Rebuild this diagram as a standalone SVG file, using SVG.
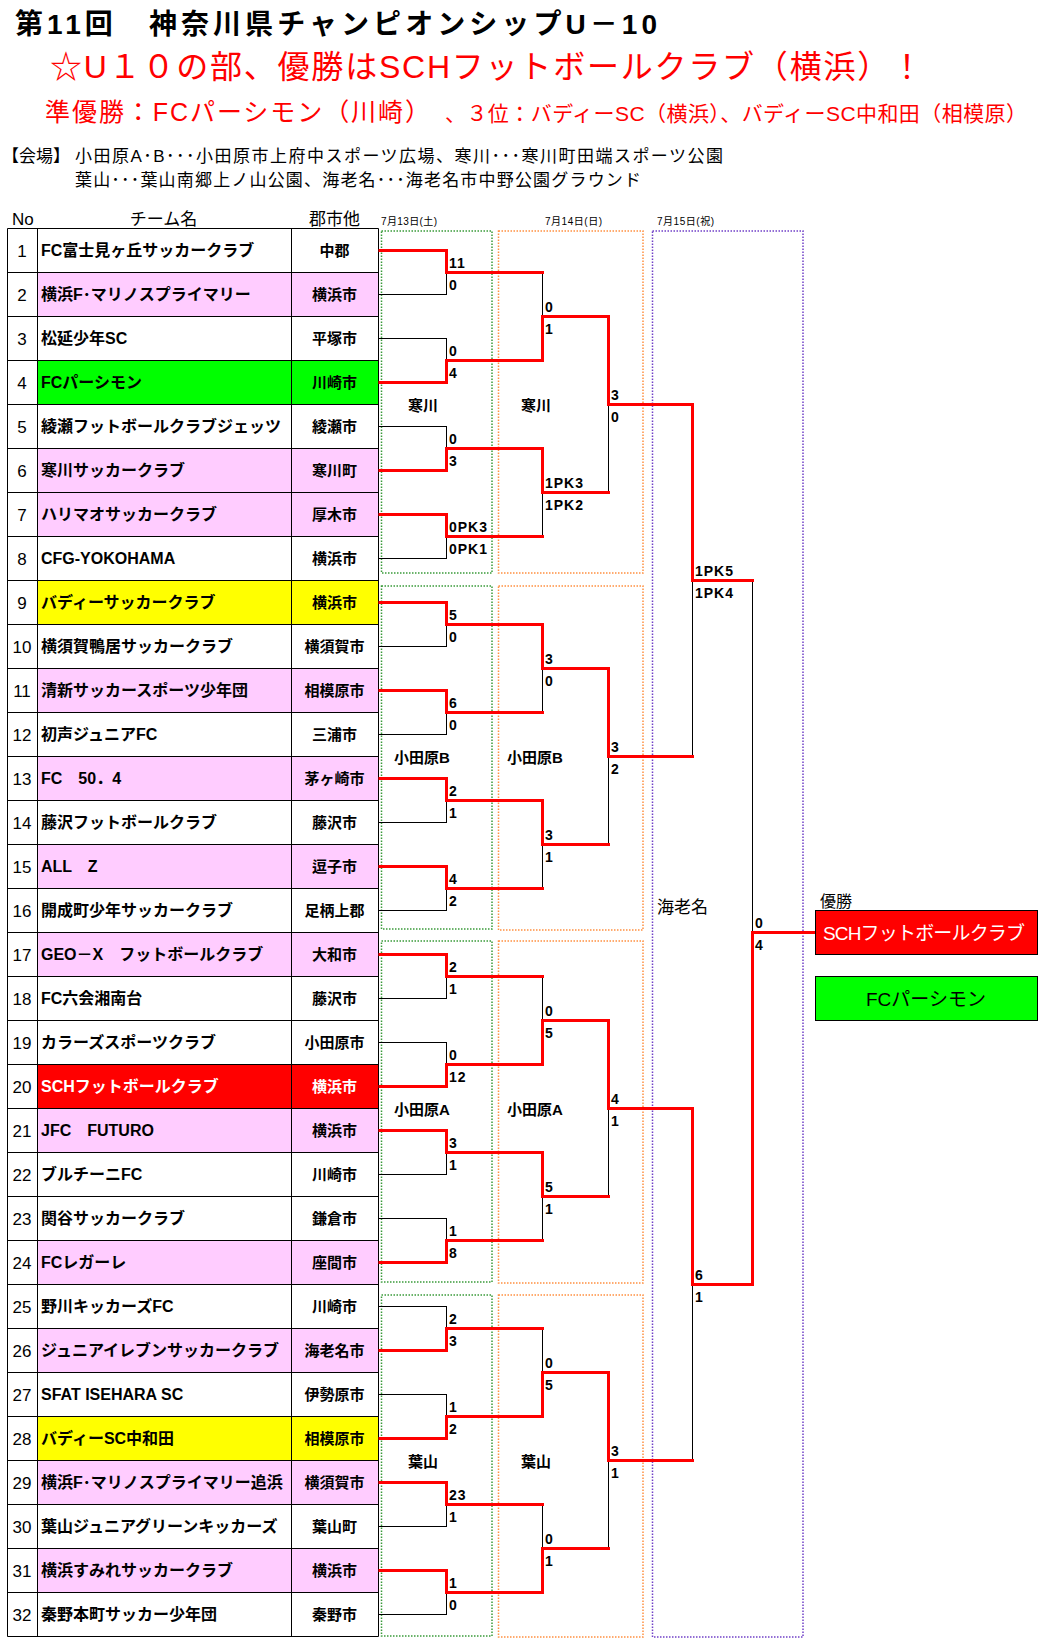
<svg xmlns="http://www.w3.org/2000/svg" width="1047" height="1651" viewBox="0 0 1047 1651">
<style>
text{font-family:"Liberation Sans","Noto Sans CJK JP",sans-serif;fill:#000}
.t1{font-size:28px;font-weight:bold}
.t2{font-size:32px;fill:#f00}
.t3a{font-size:25px;fill:#f00}
.t3b{font-size:21px;fill:#f00}
.info{font-size:17px}
.hd{font-size:17px}
.dt{font-size:10px}
.no{font-size:17px;text-anchor:middle}
.nm{font-size:16px;font-weight:bold}
.ct{font-size:15px;font-weight:bold;text-anchor:middle}
.wh{fill:#fff}
.sc{font-size:14px;font-weight:bold;letter-spacing:1px}
.vn{font-size:15px;font-weight:bold;text-anchor:middle}
.pk{fill:#ffccff}
.gr{fill:#00ff00}
.ye{fill:#ffff00}
.re{fill:#ff0000}
.grid{stroke:#000;stroke-width:1;fill:none}
.bl{stroke:#000;stroke-width:1;fill:none}
.rd{stroke:#f00;stroke-width:3;fill:none;stroke-linecap:square;stroke-linejoin:miter}
.dg{fill:none;stroke:#3a9a3a;stroke-width:1.5;stroke-dasharray:1.5 1.5}
.do{fill:none;stroke:#ff9040;stroke-width:1.5;stroke-dasharray:1.5 1.5}
.dp{fill:none;stroke:#7040c8;stroke-width:1.5;stroke-dasharray:1.5 1.5}
.box{stroke:#000;stroke-width:1}
</style>
<rect width="1047" height="1651" fill="#fff"/>

<g id="header">
<text class="t1" x="15" y="34" textLength="642" lengthAdjust="spacing">第11回　神奈川県チャンピオンシップU－10</text>
<text class="t2" x="50" y="78" textLength="873" lengthAdjust="spacing">☆U１０の部、優勝はSCHフットボールクラブ（横浜）！</text>
<text class="t3a" x="45" y="121" textLength="385" lengthAdjust="spacing">準優勝：FCパーシモン（川崎）</text>
<text class="t3b" x="445" y="121" textLength="582" lengthAdjust="spacing">、３位：バディーSC（横浜）、バディーSC中和田（相模原）</text>
<text class="info" x="2" y="162" font-size="16">【会場】</text>
<text class="info" x="75" y="162" textLength="648" lengthAdjust="spacing">小田原A･B･･･小田原市上府中スポーツ広場、寒川･･･寒川町田端スポーツ公園</text>
<text class="info" x="75" y="186" textLength="566" lengthAdjust="spacing">葉山･･･葉山南郷上ノ山公園、海老名･･･海老名市中野公園グラウンド</text>
<text class="hd" x="12" y="225">No</text>
<text class="hd" x="163.5" y="225" text-anchor="middle">チーム名</text>
<text class="hd" x="334.5" y="225" text-anchor="middle">郡市他</text>
<text class="dt" x="381" y="225" textLength="56" lengthAdjust="spacing">7月13日(土)</text>
<text class="dt" x="545" y="225" textLength="57" lengthAdjust="spacing">7月14日(日)</text>
<text class="dt" x="657" y="225" textLength="57" lengthAdjust="spacing">7月15日(祝)</text>
</g>

<g id="venues">
<rect class="dg" x="381.5" y="231" width="110.5" height="342"/>
<rect class="dg" x="381.5" y="586" width="110.5" height="343"/>
<rect class="dg" x="381.5" y="941" width="110.5" height="341"/>
<rect class="dg" x="381.5" y="1295" width="110.5" height="341"/>
<rect class="do" x="498.5" y="231" width="144.5" height="342"/>
<rect class="do" x="498.5" y="586" width="144.5" height="344"/>
<rect class="do" x="498.5" y="941" width="144.5" height="342"/>
<rect class="do" x="498.5" y="1295" width="144.5" height="342"/>
<rect class="dp" x="652.5" y="231" width="150.5" height="1406"/>
<text class="vn" x="423" y="411">寒川</text>
<text class="vn" x="536" y="411">寒川</text>
<text class="vn" x="422" y="763">小田原B</text>
<text class="vn" x="535" y="763">小田原B</text>
<text class="vn" x="422" y="1115">小田原A</text>
<text class="vn" x="535" y="1115">小田原A</text>
<text class="vn" x="423" y="1467">葉山</text>
<text class="vn" x="536" y="1467">葉山</text>
<text x="657" y="913" font-size="17">海老名</text>
</g>

<g id="teams">
<g id="team-1"><text class="no" x="22" y="257">1</text><text class="nm" x="41" y="256">FC富士見ヶ丘サッカークラブ</text><text class="ct" x="334.5" y="256">中郡</text></g>
<g id="team-2"><rect class="pk" x="37" y="272" width="341" height="44"/><text class="no" x="22" y="301">2</text><text class="nm" x="41" y="300">横浜F･マリノスプライマリー</text><text class="ct" x="334.5" y="300">横浜市</text></g>
<g id="team-3"><text class="no" x="22" y="345">3</text><text class="nm" x="41" y="344">松延少年SC</text><text class="ct" x="334.5" y="344">平塚市</text></g>
<g id="team-4"><rect class="gr" x="37" y="360" width="341" height="44"/><text class="no" x="22" y="389">4</text><text class="nm" x="41" y="388">FCパーシモン</text><text class="ct" x="334.5" y="388">川崎市</text></g>
<g id="team-5"><text class="no" x="22" y="433">5</text><text class="nm" x="41" y="432">綾瀬フットボールクラブジェッツ</text><text class="ct" x="334.5" y="432">綾瀬市</text></g>
<g id="team-6"><rect class="pk" x="37" y="448" width="341" height="44"/><text class="no" x="22" y="477">6</text><text class="nm" x="41" y="476">寒川サッカークラブ</text><text class="ct" x="334.5" y="476">寒川町</text></g>
<g id="team-7"><rect class="pk" x="37" y="492" width="341" height="44"/><text class="no" x="22" y="521">7</text><text class="nm" x="41" y="520">ハリマオサッカークラブ</text><text class="ct" x="334.5" y="520">厚木市</text></g>
<g id="team-8"><text class="no" x="22" y="565">8</text><text class="nm" x="41" y="564">CFG-YOKOHAMA</text><text class="ct" x="334.5" y="564">横浜市</text></g>
<g id="team-9"><rect class="ye" x="37" y="580" width="341" height="44"/><text class="no" x="22" y="609">9</text><text class="nm" x="41" y="608">バディーサッカークラブ</text><text class="ct" x="334.5" y="608">横浜市</text></g>
<g id="team-10"><text class="no" x="22" y="653">10</text><text class="nm" x="41" y="652">横須賀鴨居サッカークラブ</text><text class="ct" x="334.5" y="652">横須賀市</text></g>
<g id="team-11"><rect class="pk" x="37" y="668" width="341" height="44"/><text class="no" x="22" y="697">11</text><text class="nm" x="41" y="696">清新サッカースポーツ少年団</text><text class="ct" x="334.5" y="696">相模原市</text></g>
<g id="team-12"><text class="no" x="22" y="741">12</text><text class="nm" x="41" y="740">初声ジュニアFC</text><text class="ct" x="334.5" y="740">三浦市</text></g>
<g id="team-13"><rect class="pk" x="37" y="756" width="341" height="44"/><text class="no" x="22" y="785">13</text><text class="nm" x="41" y="784">FC　50．4</text><text class="ct" x="334.5" y="784">茅ヶ崎市</text></g>
<g id="team-14"><text class="no" x="22" y="829">14</text><text class="nm" x="41" y="828">藤沢フットボールクラブ</text><text class="ct" x="334.5" y="828">藤沢市</text></g>
<g id="team-15"><rect class="pk" x="37" y="844" width="341" height="44"/><text class="no" x="22" y="873">15</text><text class="nm" x="41" y="872">ALL　Z</text><text class="ct" x="334.5" y="872">逗子市</text></g>
<g id="team-16"><text class="no" x="22" y="917">16</text><text class="nm" x="41" y="916">開成町少年サッカークラブ</text><text class="ct" x="334.5" y="916">足柄上郡</text></g>
<g id="team-17"><rect class="pk" x="37" y="932" width="341" height="44"/><text class="no" x="22" y="961">17</text><text class="nm" x="41" y="960">GEO－X　フットボールクラブ</text><text class="ct" x="334.5" y="960">大和市</text></g>
<g id="team-18"><text class="no" x="22" y="1005">18</text><text class="nm" x="41" y="1004">FC六会湘南台</text><text class="ct" x="334.5" y="1004">藤沢市</text></g>
<g id="team-19"><text class="no" x="22" y="1049">19</text><text class="nm" x="41" y="1048">カラーズスポーツクラブ</text><text class="ct" x="334.5" y="1048">小田原市</text></g>
<g id="team-20"><rect class="re" x="37" y="1064" width="341" height="44"/><text class="no" x="22" y="1093">20</text><text class="nm wh" x="41" y="1092">SCHフットボールクラブ</text><text class="ct wh" x="334.5" y="1092">横浜市</text></g>
<g id="team-21"><rect class="pk" x="37" y="1108" width="341" height="44"/><text class="no" x="22" y="1137">21</text><text class="nm" x="41" y="1136">JFC　FUTURO</text><text class="ct" x="334.5" y="1136">横浜市</text></g>
<g id="team-22"><text class="no" x="22" y="1181">22</text><text class="nm" x="41" y="1180">ブルチーニFC</text><text class="ct" x="334.5" y="1180">川崎市</text></g>
<g id="team-23"><text class="no" x="22" y="1225">23</text><text class="nm" x="41" y="1224">関谷サッカークラブ</text><text class="ct" x="334.5" y="1224">鎌倉市</text></g>
<g id="team-24"><rect class="pk" x="37" y="1240" width="341" height="44"/><text class="no" x="22" y="1269">24</text><text class="nm" x="41" y="1268">FCレガーレ</text><text class="ct" x="334.5" y="1268">座間市</text></g>
<g id="team-25"><text class="no" x="22" y="1313">25</text><text class="nm" x="41" y="1312">野川キッカーズFC</text><text class="ct" x="334.5" y="1312">川崎市</text></g>
<g id="team-26"><rect class="pk" x="37" y="1328" width="341" height="44"/><text class="no" x="22" y="1357">26</text><text class="nm" x="41" y="1356">ジュニアイレブンサッカークラブ</text><text class="ct" x="334.5" y="1356">海老名市</text></g>
<g id="team-27"><text class="no" x="22" y="1401">27</text><text class="nm" x="41" y="1400">SFAT ISEHARA SC</text><text class="ct" x="334.5" y="1400">伊勢原市</text></g>
<g id="team-28"><rect class="ye" x="37" y="1416" width="341" height="44"/><text class="no" x="22" y="1445">28</text><text class="nm" x="41" y="1444">バディーSC中和田</text><text class="ct" x="334.5" y="1444">相模原市</text></g>
<g id="team-29"><rect class="pk" x="37" y="1460" width="341" height="44"/><text class="no" x="22" y="1489">29</text><text class="nm" x="41" y="1488">横浜F･マリノスプライマリー追浜</text><text class="ct" x="334.5" y="1488">横須賀市</text></g>
<g id="team-30"><text class="no" x="22" y="1533">30</text><text class="nm" x="41" y="1532">葉山ジュニアグリーンキッカーズ</text><text class="ct" x="334.5" y="1532">葉山町</text></g>
<g id="team-31"><rect class="pk" x="37" y="1548" width="341" height="44"/><text class="no" x="22" y="1577">31</text><text class="nm" x="41" y="1576">横浜すみれサッカークラブ</text><text class="ct" x="334.5" y="1576">横浜市</text></g>
<g id="team-32"><text class="no" x="22" y="1621">32</text><text class="nm" x="41" y="1620">秦野本町サッカー少年団</text><text class="ct" x="334.5" y="1620">秦野市</text></g>
</g>

<g id="table-grid">
<path class="grid" d="M7.5,228.5H378.5V1636.5H7.5Z M37.5,228.5V1636.5 M291.5,228.5V1636.5
M7.5,272.5H378.5 M7.5,316.5H378.5 M7.5,360.5H378.5 M7.5,404.5H378.5 M7.5,448.5H378.5 M7.5,492.5H378.5 M7.5,536.5H378.5 M7.5,580.5H378.5
M7.5,624.5H378.5 M7.5,668.5H378.5 M7.5,712.5H378.5 M7.5,756.5H378.5 M7.5,800.5H378.5 M7.5,844.5H378.5 M7.5,888.5H378.5 M7.5,932.5H378.5
M7.5,976.5H378.5 M7.5,1020.5H378.5 M7.5,1064.5H378.5 M7.5,1108.5H378.5 M7.5,1152.5H378.5 M7.5,1196.5H378.5 M7.5,1240.5H378.5 M7.5,1284.5H378.5
M7.5,1328.5H378.5 M7.5,1372.5H378.5 M7.5,1416.5H378.5 M7.5,1460.5H378.5 M7.5,1504.5H378.5 M7.5,1548.5H378.5 M7.5,1592.5H378.5"/>
</g>

<g id="connectors">
<path class="bl" d="M379,250.5H446.5 M379,294.5H446.5 M379,338.5H446.5 M379,382.5H446.5 M379,426.5H446.5 M379,470.5H446.5 M379,514.5H446.5 M379,558.5H446.5
M379,602.5H446.5 M379,646.5H446.5 M379,690.5H446.5 M379,734.5H446.5 M379,778.5H446.5 M379,822.5H446.5 M379,866.5H446.5 M379,910.5H446.5
M379,954.5H446.5 M379,998.5H446.5 M379,1042.5H446.5 M379,1086.5H446.5 M379,1130.5H446.5 M379,1174.5H446.5 M379,1218.5H446.5 M379,1262.5H446.5
M379,1306.5H446.5 M379,1350.5H446.5 M379,1394.5H446.5 M379,1438.5H446.5 M379,1482.5H446.5 M379,1526.5H446.5 M379,1570.5H446.5 M379,1614.5H446.5
M446.5,250V295 M446.5,338V383 M446.5,426V471 M446.5,514V559 M446.5,602V647 M446.5,690V735 M446.5,778V823 M446.5,866V911
M446.5,954V999 M446.5,1042V1087 M446.5,1130V1175 M446.5,1218V1263 M446.5,1306V1351 M446.5,1394V1439 M446.5,1482V1527 M446.5,1570V1615
M542.5,272V361 M542.5,448V537 M542.5,624V713 M542.5,800V889 M542.5,976V1065 M542.5,1152V1241 M542.5,1328V1417 M542.5,1504V1593
M608.5,316V493 M608.5,668V845 M608.5,1020V1197 M608.5,1372V1549
M692.5,404V757 M692.5,1108V1461
M752.5,580V1285"/>
<path class="rd" d="M380,1086.5H446.5V1064.5H542.5V1020.5H608.5V1108.5H692.5V1284.5H752.5V932.5H814"/>
<path class="rd" d="M380,382.5H446.5V360.5H542.5V316.5H608.5V404.5H692.5V580.5H752.5"/>
<path class="rd" d="M380,602.5H446.5V624.5H542.5V668.5H608.5V756.5H692.5"/>
<path class="rd" d="M380,1438.5H446.5V1416.5H542.5V1372.5H608.5V1460.5H692.5"/>
<path class="rd" d="M380,470.5H446.5V448.5H542.5V492.5H608.5"/>
<path class="rd" d="M380,778.5H446.5V800.5H542.5V844.5H608.5"/>
<path class="rd" d="M380,1130.5H446.5V1152.5H542.5V1196.5H608.5"/>
<path class="rd" d="M380,1570.5H446.5V1592.5H542.5V1548.5H608.5"/>
<path class="rd" d="M380,250.5H446.5V272.5H542.5"/>
<path class="rd" d="M380,514.5H446.5V536.5H542.5"/>
<path class="rd" d="M380,690.5H446.5V712.5H542.5"/>
<path class="rd" d="M380,866.5H446.5V888.5H542.5"/>
<path class="rd" d="M380,954.5H446.5V976.5H542.5"/>
<path class="rd" d="M380,1262.5H446.5V1240.5H542.5"/>
<path class="rd" d="M380,1350.5H446.5V1328.5H542.5"/>
<path class="rd" d="M380,1482.5H446.5V1504.5H542.5"/>
</g>

<g id="scores">
<text class="sc" x="449" y="268">11</text><text class="sc" x="449" y="290">0</text>
<text class="sc" x="449" y="356">0</text><text class="sc" x="449" y="378">4</text>
<text class="sc" x="449" y="444">0</text><text class="sc" x="449" y="466">3</text>
<text class="sc" x="449" y="532">0PK3</text><text class="sc" x="449" y="554">0PK1</text>
<text class="sc" x="449" y="620">5</text><text class="sc" x="449" y="642">0</text>
<text class="sc" x="449" y="708">6</text><text class="sc" x="449" y="730">0</text>
<text class="sc" x="449" y="796">2</text><text class="sc" x="449" y="818">1</text>
<text class="sc" x="449" y="884">4</text><text class="sc" x="449" y="906">2</text>
<text class="sc" x="449" y="972">2</text><text class="sc" x="449" y="994">1</text>
<text class="sc" x="449" y="1060">0</text><text class="sc" x="449" y="1082">12</text>
<text class="sc" x="449" y="1148">3</text><text class="sc" x="449" y="1170">1</text>
<text class="sc" x="449" y="1236">1</text><text class="sc" x="449" y="1258">8</text>
<text class="sc" x="449" y="1324">2</text><text class="sc" x="449" y="1346">3</text>
<text class="sc" x="449" y="1412">1</text><text class="sc" x="449" y="1434">2</text>
<text class="sc" x="449" y="1500">23</text><text class="sc" x="449" y="1522">1</text>
<text class="sc" x="449" y="1588">1</text><text class="sc" x="449" y="1610">0</text>
<text class="sc" x="545" y="312">0</text><text class="sc" x="545" y="334">1</text>
<text class="sc" x="545" y="488">1PK3</text><text class="sc" x="545" y="510">1PK2</text>
<text class="sc" x="545" y="664">3</text><text class="sc" x="545" y="686">0</text>
<text class="sc" x="545" y="840">3</text><text class="sc" x="545" y="862">1</text>
<text class="sc" x="545" y="1016">0</text><text class="sc" x="545" y="1038">5</text>
<text class="sc" x="545" y="1192">5</text><text class="sc" x="545" y="1214">1</text>
<text class="sc" x="545" y="1368">0</text><text class="sc" x="545" y="1390">5</text>
<text class="sc" x="545" y="1544">0</text><text class="sc" x="545" y="1566">1</text>
<text class="sc" x="611" y="400">3</text><text class="sc" x="611" y="422">0</text>
<text class="sc" x="611" y="752">3</text><text class="sc" x="611" y="774">2</text>
<text class="sc" x="611" y="1104">4</text><text class="sc" x="611" y="1126">1</text>
<text class="sc" x="611" y="1456">3</text><text class="sc" x="611" y="1478">1</text>
<text class="sc" x="695" y="576">1PK5</text><text class="sc" x="695" y="598">1PK4</text>
<text class="sc" x="695" y="1280">6</text><text class="sc" x="695" y="1302">1</text>
<text class="sc" x="755" y="928">0</text><text class="sc" x="755" y="950">4</text>
</g>

<g id="champion">
<text x="820" y="907" font-size="16">優勝</text>
<rect class="box" x="815.5" y="910.5" width="222" height="44" fill="#ff0000"/>
<text x="823" y="940" font-size="19" style="fill:#fff" textLength="202" lengthAdjust="spacing">SCHフットボールクラブ</text>
</g>
<g id="runner-up">
<rect class="box" x="815.5" y="976.5" width="222" height="44" fill="#00ff00"/>
<text x="866" y="1006" font-size="19" textLength="120" lengthAdjust="spacing">FCパーシモン</text>
</g>
</svg>
